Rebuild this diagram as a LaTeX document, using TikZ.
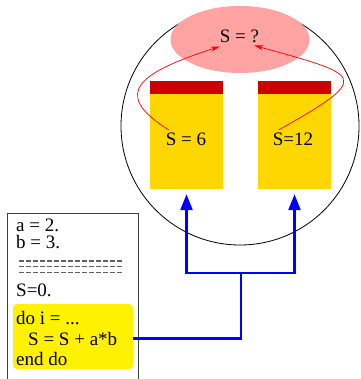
\documentclass[tikz,border=0pt]{standalone}
\usepackage{fontspec}
\setmainfont{Liberation Serif}
\usetikzlibrary{shapes.geometric,arrows.meta}
\definecolor{pinkfill}{RGB}{255,163,163}
\definecolor{goldfill}{RGB}{255,215,0}
\definecolor{bandred}{RGB}{205,0,0}
\definecolor{dashgray}{RGB}{96,96,96}
\tikzset{
  txt/.style={inner sep=0pt, anchor=base west, font=\fontsize{19}{20}\selectfont},
  ctxt/.style={inner sep=0pt, anchor=base, font=\fontsize{19}{20}\selectfont},
  procbox/.style={rectangle, fill=goldfill, minimum width=73pt, minimum height=108pt, inner sep=0pt},
  redarrow/.style={red, line width=0.7pt, -{Stealth[length=9pt,width=5pt]}},
  bline/.style={blue, line width=2.5pt},
  barrow/.style={blue, line width=2.5pt, -{Triangle[length=16pt,width=12pt]}},
  dashrow/.style={dashgray, line width=1.3pt, dash pattern=on 4.5pt off 2.5pt},
}
\begin{document}
\begin{tikzpicture}[x=1pt,y=-1pt]
\useasboundingbox (0,0) rectangle (360,379);
% big circle
\node[circle, draw=black, line width=0.8pt, minimum size=238pt, inner sep=0pt] (globe) at (240,126) {};
% pink ellipse
\node[ellipse, fill=pinkfill, minimum width=139pt, minimum height=67pt, inner sep=0pt] (pool) at (240,39.5) {};
\node[ctxt] (sq) at (239.5,43) {S = ?};
% processor boxes
\node[procbox] (p6) at (186.5,135) {};
\node[procbox] (p12) at (294.5,135) {};
\fill[bandred] (p6.north west) rectangle ([yshift=-13pt]p6.north east);
\fill[bandred] (p12.north west) rectangle ([yshift=-13pt]p12.north east);
\node[ctxt] (s6) at (186,145.7) {S = 6};
\node[ctxt] (s12) at (293,145.7) {S=12};
% red arrows
\draw[redarrow] ([shift={(3pt,3pt)}]s6.north west) .. controls +(-59,-37) and +(-80,26) .. ([shift={(0pt,-3pt)}]sq.south west);
\draw[redarrow] ([shift={(6pt,3pt)}]s12.north west) .. controls +(96,-54) and +(107,30) .. ([shift={(-5pt,-2pt)}]sq.south east);
% program frame
\node[rectangle, draw=black!75, line width=0.8pt, minimum width=131pt, minimum height=190pt, inner sep=0pt] (prog) at (72.5,308) {};
\node[txt] (la) at (16,231.5) {a = 2.};
\node[txt] (lb) at (16,248.5) {b = 3.};
\draw[dashrow] (19,261) -- (124,261);
\draw[dashrow] (19,266.7) -- (124,266.7);
\draw[dashrow] (19,272.4) -- (124,272.4);
\node[txt] (ls) at (16,296.5) {S=0.};
\node[rectangle, rounded corners=4pt, fill=yellow, minimum width=120pt, minimum height=65pt, inner sep=0pt] (loop) at (73,336.5) {};
\node[txt] (c1) at (16,324.5) {do i = ...};
\node[txt] (c2) at (28,345) {S = S + a*b};
\node[txt] (c3) at (16,365.5) {end do};
% blue connectors
\coordinate (junc) at (241,273);
\draw[bline] (loop.east |- c2) -| (junc);
\draw[barrow] (junc) -| ([yshift=-5pt]p6.south);
\draw[barrow] (junc) -| ([yshift=-5pt]p12.south);
\end{tikzpicture}
\end{document}
